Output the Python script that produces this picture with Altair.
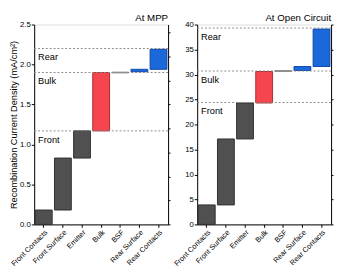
import altair as alt
import pandas as pd

categories = ["Front Contacts", "Front Surface", "Emitter", "Bulk", "BSF", "Rear Surface", "Rear Contacts"]
groups = ["front", "front", "front", "bulk", "bsf", "rear", "rear"]
mpp_start = [0.0, 0.18, 0.83, 1.17, 1.895, 1.91, 1.94]
mpp_end = [0.18, 0.83, 1.17, 1.90, 1.905, 1.94, 2.19]
oc_start = [0.0, 3.9, 17.1, 24.3, 30.6, 30.8, 31.6]
oc_end = [3.9, 17.1, 24.3, 30.6, 30.8, 31.6, 39.1]

ref_names = ["Front", "Bulk", "Rear"]
mpp_refs = [1.17, 1.90, 2.20]
oc_refs = [24.4, 30.7, 39.3]

mpp_ticks = [0, 0.5, 1.0, 1.5, 2.0, 2.5]
mpp_minor = [0, 0.3, 0.6, 0.9, 1.2, 1.5, 1.8, 2.1, 2.4]
oc_ticks = [0, 5, 10, 15, 20, 25, 30, 35, 40]
oc_minor = [0, 5, 10, 15, 20, 25, 30, 35, 40]

panel_titles = ["At MPP", "At Open Circuit"]

group_domain = ["front", "bulk", "bsf", "rear"]
fill_range = ["#505050", "#f5454e", "#a8a8a8", "#1b68da"]
stroke_range = ["#303030", "#b02a30", "#909090", "#0d47a8"]

FONT = "Arial"
W, H = 138, 206


def panel(start, end, refs, domain, ticks, minor, fmt, title, ytitle):
    bars_df = pd.DataFrame({"cat": categories, "grp": groups, "s": start, "e": end})
    ref_df = pd.DataFrame({"name": ref_names, "v": refs})
    minor_df = pd.DataFrame({"v": minor})
    title_df = pd.DataFrame({"t": [title]})
    yscale = alt.Scale(domain=domain, nice=False, zero=False)
    x = alt.X("cat:N", sort=categories,
              scale=alt.Scale(paddingInner=0.12, paddingOuter=0.06),
              axis=alt.Axis(title="", labelAngle=-45, labelAlign="right", labelBaseline="top",
                            labelFontSize=7.5, labelFont=FONT, tickSize=3, labelPadding=1,
                            domainColor="black", tickColor="black", labelColor="black"))
    bars = alt.Chart(bars_df).mark_bar(strokeWidth=1).encode(
        x=x,
        y=alt.Y("s:Q", scale=yscale,
                axis=alt.Axis(title=ytitle, values=ticks, format=fmt, grid=False,
                              labelFontSize=8, labelFont=FONT, titleFontSize=9.5,
                              titleFont=FONT, titleFontWeight="normal", tickSize=3,
                              labelPadding=1, titlePadding=1,
                              domainColor="black", tickColor="black",
                              labelColor="black", titleColor="black")),
        y2="e:Q",
        color=alt.Color("grp:N", scale=alt.Scale(domain=group_domain, range=fill_range), legend=None),
        stroke=alt.Stroke("grp:N", scale=alt.Scale(domain=group_domain, range=stroke_range), legend=None),
    )
    rules = alt.Chart(ref_df).mark_rule(color="#888888", strokeDash=[2, 2], strokeWidth=1).encode(
        y=alt.Y("v:Q", scale=yscale, axis=None)
    )
    labels = alt.Chart(ref_df).mark_text(align="left", baseline="top", dy=4, fontSize=9.5,
                                         font=FONT, color="black").encode(
        x=alt.value(4), y=alt.Y("v:Q", scale=yscale, axis=None), text="name:N"
    )
    ghost = alt.Chart(minor_df).mark_point(opacity=0, size=1).encode(
        x=alt.value(0),
        y=alt.Y("v:Q", scale=yscale,
                axis=alt.Axis(orient="right", title="", values=minor, labels=False, grid=False,
                              tickSize=2, domainColor="black", tickColor="black"))
    )
    head = alt.Chart(title_df).mark_text(align="right", baseline="bottom", fontSize=10,
                                         font=FONT, color="black").encode(
        x=alt.value(W), y=alt.value(-2), text="t:N"
    )
    return alt.layer(bars, rules, labels, ghost, head).resolve_axis(y="independent").properties(
        width=W, height=H,
    )


left = panel(mpp_start, mpp_end, mpp_refs, [0, 2.5], mpp_ticks, mpp_minor, ".1f",
             panel_titles[0], "Recombination Current Density (mA/cm²)")
right = panel(oc_start, oc_end, oc_refs, [0, 40], oc_ticks, oc_minor, "d",
              panel_titles[1], "")

chart = alt.hconcat(left, right, spacing=1).properties(padding=0).configure_view(
    stroke="black", strokeWidth=1
).configure(background="white")

chart.save("out.html", embed_options={"renderer": "svg", "actions": False})
